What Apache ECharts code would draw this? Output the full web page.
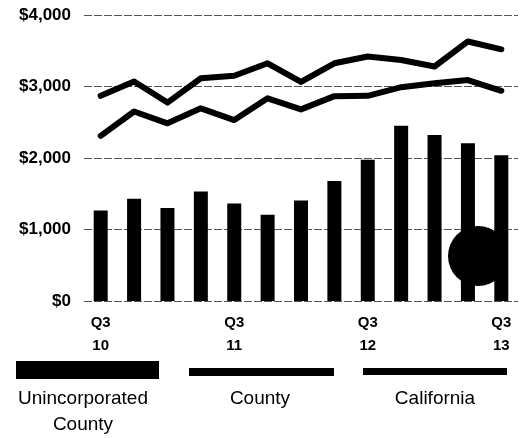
<!DOCTYPE html>
<html>
<head>
<meta charset="utf-8">
<script src="https://cdn.jsdelivr.net/npm/echarts@6/dist/echarts.min.js"></script>
<style>
  html, body { margin: 0; padding: 0; background: #fff; }
  #chart { width: 523px; height: 438px; }
</style>
</head>
<body>
<div id="chart"></div>
<script>
// Quarterly figures, Q3 2010 through Q3 2013
var quarters = ['Q3 10', 'Q4 10', 'Q1 11', 'Q2 11', 'Q3 11', 'Q4 11', 'Q1 12',
                'Q2 12', 'Q3 12', 'Q4 12', 'Q1 13', 'Q2 13', 'Q3 13'];
var unincorporated = [1265, 1430, 1300, 1530, 1365, 1205, 1405, 1680, 1975, 2450, 2320, 2205, 2040];
var county = [2870, 3070, 2775, 3115, 3150, 3325, 3065, 3325, 3420, 3370, 3280, 3630, 3520];
var california = [2310, 2650, 2485, 2695, 2530, 2835, 2680, 2865, 2870, 2990, 3045, 3090, 2940];
var yTicks = [0, 1000, 2000, 3000, 4000];
var legendNames = ['Unincorporated\nCounty', 'County', 'California'];

var chart = echarts.init(document.getElementById('chart'));

var fontFamily = '"Liberation Sans", Arial, sans-serif';

chart.setOption({
  animation: false,
  backgroundColor: '#ffffff',
  grid: { left: 84, right: 5, top: 15, bottom: 137, containLabel: false },
  xAxis: {
    type: 'category',
    data: quarters,
    boundaryGap: true,
    axisLine: { show: false },
    axisTick: { show: false },
    axisLabel: {
      interval: 0,
      margin: 10,
      color: '#000',
      fontFamily: fontFamily,
      fontWeight: 'bold',
      fontSize: 15,
      lineHeight: 23,
      formatter: function (v) {
        var parts = v.split(' ');
        return parts[0] === 'Q3' ? parts[0] + '\n' + parts[1] : '';
      }
    }
  },
  yAxis: {
    type: 'value',
    min: yTicks[0],
    max: yTicks[yTicks.length - 1],
    interval: 1000,
    axisLine: { show: false },
    axisTick: { show: false },
    axisLabel: {
      margin: 13,
      color: '#000',
      fontFamily: fontFamily,
      fontWeight: 'bold',
      fontSize: 17,
      formatter: function (v) {
        return '$' + v.toLocaleString('en-US');
      }
    },
    splitLine: {
      show: true,
      lineStyle: { color: '#555', width: 1, type: [8, 2] }
    }
  },
  series: [
    {
      name: 'Unincorporated County',
      type: 'bar',
      data: unincorporated,
      barWidth: 14,
      itemStyle: { color: '#000' }
    },
    {
      name: 'County',
      type: 'line',
      data: county,
      showSymbol: false,
      symbol: 'none',
      lineStyle: { color: '#000', width: 6, cap: 'round', join: 'round' }
    },
    {
      name: 'California',
      type: 'line',
      data: california,
      showSymbol: false,
      symbol: 'none',
      lineStyle: { color: '#000', width: 6, cap: 'round', join: 'round' }
    }
  ],
  graphic: [
    // legend swatches
    { type: 'rect', shape: { x: 16, y: 361, width: 143, height: 18 }, style: { fill: '#000' } },
    { type: 'rect', shape: { x: 189, y: 368, width: 145, height: 8 }, style: { fill: '#000' } },
    { type: 'rect', shape: { x: 363, y: 368, width: 144, height: 7 }, style: { fill: '#000' } },
    // legend labels
    {
      type: 'text', x: 83, y: 386,
      style: {
        text: legendNames[0], fill: '#000', font: '19px ' + fontFamily,
        align: 'center', verticalAlign: 'top', lineHeight: 26
      }
    },
    {
      type: 'text', x: 260, y: 399,
      style: {
        text: legendNames[1], fill: '#000', font: '19px ' + fontFamily,
        align: 'center', verticalAlign: 'middle'
      }
    },
    {
      type: 'text', x: 435, y: 399,
      style: {
        text: legendNames[2], fill: '#000', font: '19px ' + fontFamily,
        align: 'center', verticalAlign: 'middle'
      }
    },
    // solid dot near the lower right of the plot
    { type: 'circle', shape: { cx: 478, cy: 256, r: 30 }, style: { fill: '#000' }, z: 10 }
  ]
});
</script>
</body>
</html>
